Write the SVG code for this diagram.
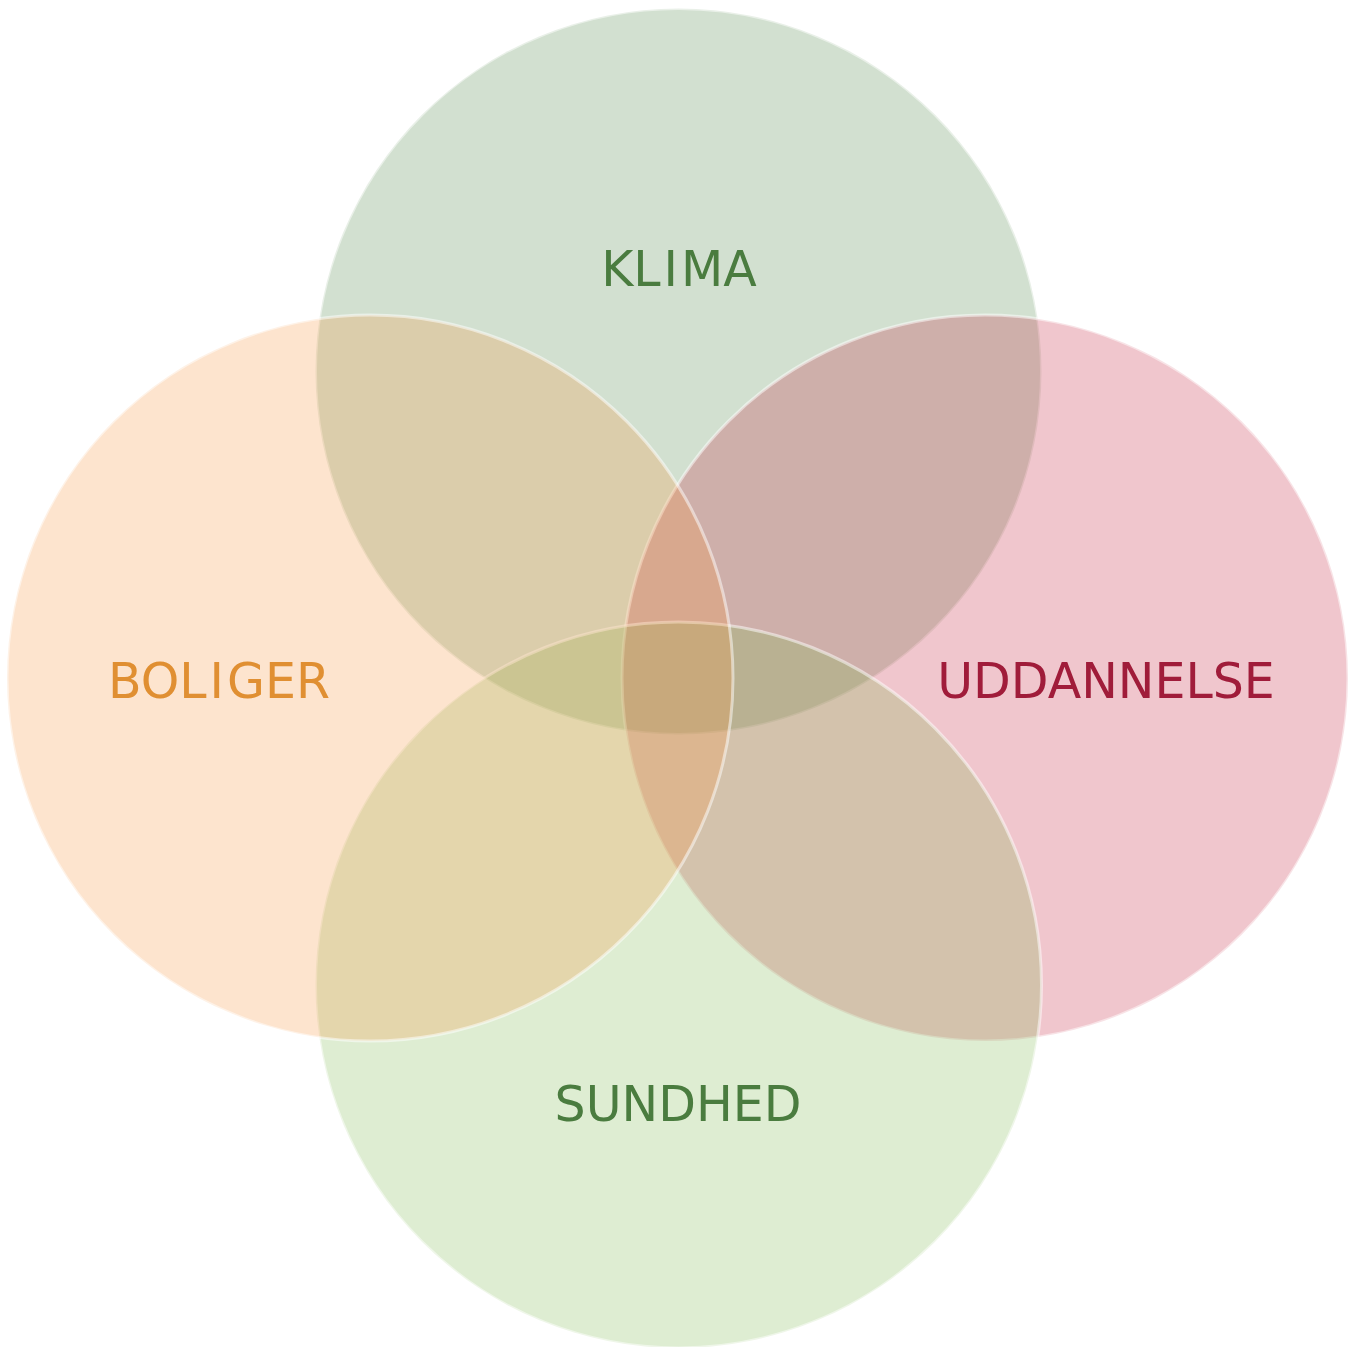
<svg xmlns="http://www.w3.org/2000/svg" width="1358" height="1347" viewBox="0 0 1358 1347">
<style>
.c{fill-opacity:0.25;stroke:#ffffff;stroke-opacity:0.5;stroke-width:3}
.t{font-family:"DejaVu Sans",Verdana,sans-serif;font-size:49px;text-anchor:middle}
</style>
<rect width="1358" height="1347" fill="#ffffff"/>
<g id="klima"><circle class="c" cx="678.5" cy="371.5" r="363" fill="#4b8343"/><text class="t" x="679" y="286" fill="#4a7c3f">KL<tspan dx="3">I</tspan><tspan dx="3">MA</tspan></text></g>
<g id="uddannelse"><circle class="c" cx="985" cy="678" r="363" fill="#c31b37"/><text class="t" x="1106" y="698" fill="#a01c3a">UDDANNELSE</text></g>
<g id="sundhed"><circle class="c" cx="678.5" cy="985" r="363" fill="#7bb74b"/><text class="t" x="678" y="1121" fill="#4a7c3f">SUNDHED</text></g>
<g id="boliger"><circle class="c" cx="370" cy="678" r="363" fill="#f7933c"/><text class="t" x="219" y="698" fill="#e08f32">BOL<tspan dx="3">I</tspan><tspan dx="3">GER</tspan></text></g>
<g id="connectors"/>
</svg>
